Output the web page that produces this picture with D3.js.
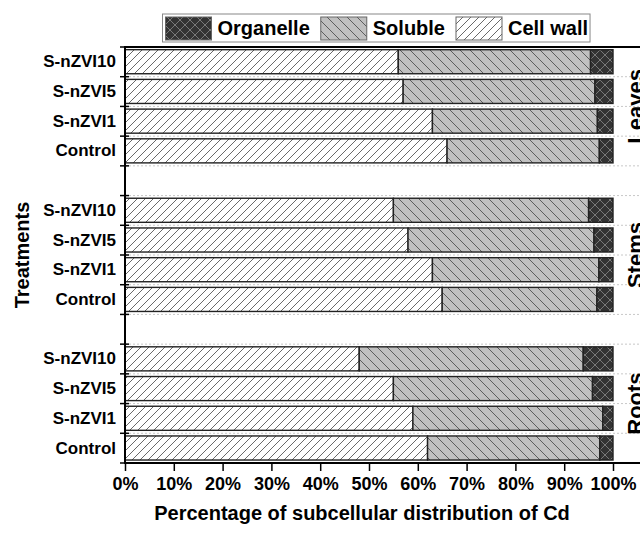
<!DOCTYPE html>
<html>
<head>
<meta charset="utf-8">
<script src="https://cdn.jsdelivr.net/npm/d3@7/dist/d3.min.js"></script>
<style>
  body { margin: 0; background: #fff; }
  svg text { font-family: "Liberation Sans", Arial, sans-serif; font-weight: bold; fill: #000; }
</style>
</head>
<body>
<div id="chart"></div>
<script>
// data (percent of Cd in each fraction)
var tissues = ["Leaves", "Stems", "Roots"];
var treatments = ["S-nZVI10", "S-nZVI5", "S-nZVI1", "Control"];
var series = ["Cell wall", "Soluble", "Organelle"];
var legendOrder = ["Organelle", "Soluble", "Cell wall"];
var cellWall  = [[56, 57, 63, 66], [55, 58, 63, 65], [48, 55, 59, 62]];
var soluble   = [[39.4, 39.3, 33.8, 31.2], [40, 38.1, 34.1, 31.7], [45.9, 40.8, 38.9, 35.3]];
var organelle = [[4.6, 3.7, 3.2, 2.8], [5, 3.9, 2.9, 3.3], [6.1, 4.2, 2.1, 2.7]];
var xTicks = [0, 10, 20, 30, 40, 50, 60, 70, 80, 90, 100];

var W = 640, H = 540;
var margin = { top: 47, left: 125, bottom: 463 };
var frameRight = 662;

// one row per bar, plus a blank slot between tissues
var rows = [], slots = [];
tissues.forEach(function (t, ti) {
  treatments.forEach(function (tr, i) {
    var key = t + "|" + tr;
    rows.push({ key: key, tissue: t, label: tr,
      "Cell wall": cellWall[ti][i], "Soluble": soluble[ti][i], "Organelle": organelle[ti][i] });
    slots.push(key);
  });
  if (ti < tissues.length - 1) slots.push("gap" + ti);
});

var x = d3.scaleLinear().domain([0, 100]).range([margin.left, 613]);
var y = d3.scaleBand().domain(slots).range([margin.top, margin.bottom]).padding(0);
var bw = y.bandwidth();

var svg = d3.select("#chart").append("svg")
  .attr("width", W).attr("height", H);

// hatch patterns
var defs = svg.append("defs");
function hatch(id, size, fill, d, stroke, sw) {
  var p = defs.append("pattern").attr("id", id)
    .attr("patternUnits", "userSpaceOnUse")
    .attr("width", size).attr("height", size);
  p.append("rect").attr("width", size).attr("height", size).attr("fill", fill);
  p.append("path").attr("d", d).attr("stroke", stroke).attr("stroke-width", sw).attr("fill", "none");
}
hatch("pat-cw", 8, "#fff", "M-2,2L2,-2M0,8L8,0M6,10L10,6", "#444", 0.8);
hatch("pat-sol", 10, "#c0c0c0", "M-2,8L2,12M0,0L10,10M8,-2L12,2", "#444", 0.8);
hatch("pat-org", 10, "#333", "M0,0L10,10M-2,8L2,12M8,-2L12,2M0,10L10,0M-2,2L2,-2M8,12L12,8", "#8a8a8a", 0.8);
var fills = { "Cell wall": "url(#pat-cw)", "Soluble": "url(#pat-sol)", "Organelle": "url(#pat-org)" };

// slot boundaries
var bounds = d3.range(slots.length + 1).map(function (i) { return margin.top + i * bw; });

// dotted grid
svg.append("g").selectAll("line").data(bounds.slice(1, -1)).enter().append("line")
  .attr("x1", margin.left).attr("x2", frameRight)
  .attr("y1", function (d) { return d; }).attr("y2", function (d) { return d; })
  .attr("stroke", "#c8c8c8").attr("stroke-width", 1).attr("stroke-dasharray", "2,2");

// stacked bars
var stacked = d3.stack().keys(series)(rows);
svg.append("g").selectAll("g").data(stacked).enter().append("g")
  .attr("fill", function (s) { return fills[s.key]; })
  .selectAll("rect").data(function (s) { return s; }).enter().append("rect")
  .attr("x", function (d) { return x(d[0]); })
  .attr("width", function (d) { return x(d[1]) - x(d[0]); })
  .attr("y", function (d) { return y(d.data.key) + bw * 0.09; })
  .attr("height", bw * 0.81)
  .attr("stroke", "#222").attr("stroke-width", 1.4);

// frame: top line and axis lines
svg.append("line").attr("x1", margin.left - 1).attr("x2", frameRight)
  .attr("y1", margin.top).attr("y2", margin.top).attr("stroke", "#000").attr("stroke-width", 2);

// x axis
var xAxis = svg.append("g").attr("transform", "translate(0," + margin.bottom + ")")
  .call(d3.axisBottom(x).tickValues(xTicks).tickFormat(function (d) { return d + "%"; })
    .tickSize(8).tickSizeOuter(0).tickPadding(6));
xAxis.select(".domain").remove();
xAxis.selectAll(".tick line").attr("stroke", "#000").attr("stroke-width", 1.5);
xAxis.selectAll("text").style("font-size", "18px").attr("fill", "#000");
svg.append("line").attr("x1", margin.left - 1).attr("x2", frameRight)
  .attr("y1", margin.bottom).attr("y2", margin.bottom).attr("stroke", "#000").attr("stroke-width", 2);

// y axis: labels at band centres, ticks at slot boundaries
var yAxis = svg.append("g").attr("transform", "translate(" + margin.left + ",0)")
  .call(d3.axisLeft(y).tickSize(0).tickPadding(9)
    .tickFormat(function (k) { return k.indexOf("|") > 0 ? k.split("|")[1] : ""; }));
yAxis.select(".domain").remove();
yAxis.selectAll("text").style("font-size", "17px").attr("fill", "#000");
svg.append("g").selectAll("line").data(bounds).enter().append("line")
  .attr("x1", margin.left - 5).attr("x2", margin.left + 4)
  .attr("y1", function (d) { return d; }).attr("y2", function (d) { return d; })
  .attr("stroke", "#000").attr("stroke-width", 1.5);
svg.append("line").attr("x1", margin.left).attr("x2", margin.left)
  .attr("y1", margin.top).attr("y2", margin.bottom).attr("stroke", "#000").attr("stroke-width", 2);

// tissue labels on the right
tissues.forEach(function (t) {
  var first = y(t + "|" + treatments[0]);
  var last = y(t + "|" + treatments[treatments.length - 1]) + bw;
  var cy = (first + last) / 2;
  svg.append("text").attr("transform", "translate(643," + cy + ") rotate(-90)")
    .attr("text-anchor", "middle").style("font-size", "22px").text(t);
});

// axis titles
svg.append("text").attr("x", 362).attr("y", 520).attr("text-anchor", "middle")
  .style("font-size", "20px").text("Percentage of subcellular distribution of Cd");
svg.append("text").attr("transform", "translate(29,255) rotate(-90)")
  .attr("text-anchor", "middle").style("font-size", "20px").text("Treatments");

// legend
var lg = svg.append("g");
var box = lg.append("rect").attr("x", 162.5).attr("y", 14).attr("height", 28)
  .attr("fill", "#fff").attr("stroke", "#888").attr("stroke-width", 1);
var lx = 165.5;
legendOrder.forEach(function (k) {
  lg.append("rect").attr("x", lx).attr("y", 17).attr("width", 46).attr("height", 23)
    .attr("fill", fills[k]).attr("stroke", "#666").attr("stroke-width", 1);
  var tx = lg.append("text").attr("x", lx + 52).attr("y", 35).style("font-size", "20px").text(k);
  lx = lx + 52 + tx.node().getComputedTextLength() + 11;
});
box.attr("width", lx - 9 - 162.5);
</script>
</body>
</html>
